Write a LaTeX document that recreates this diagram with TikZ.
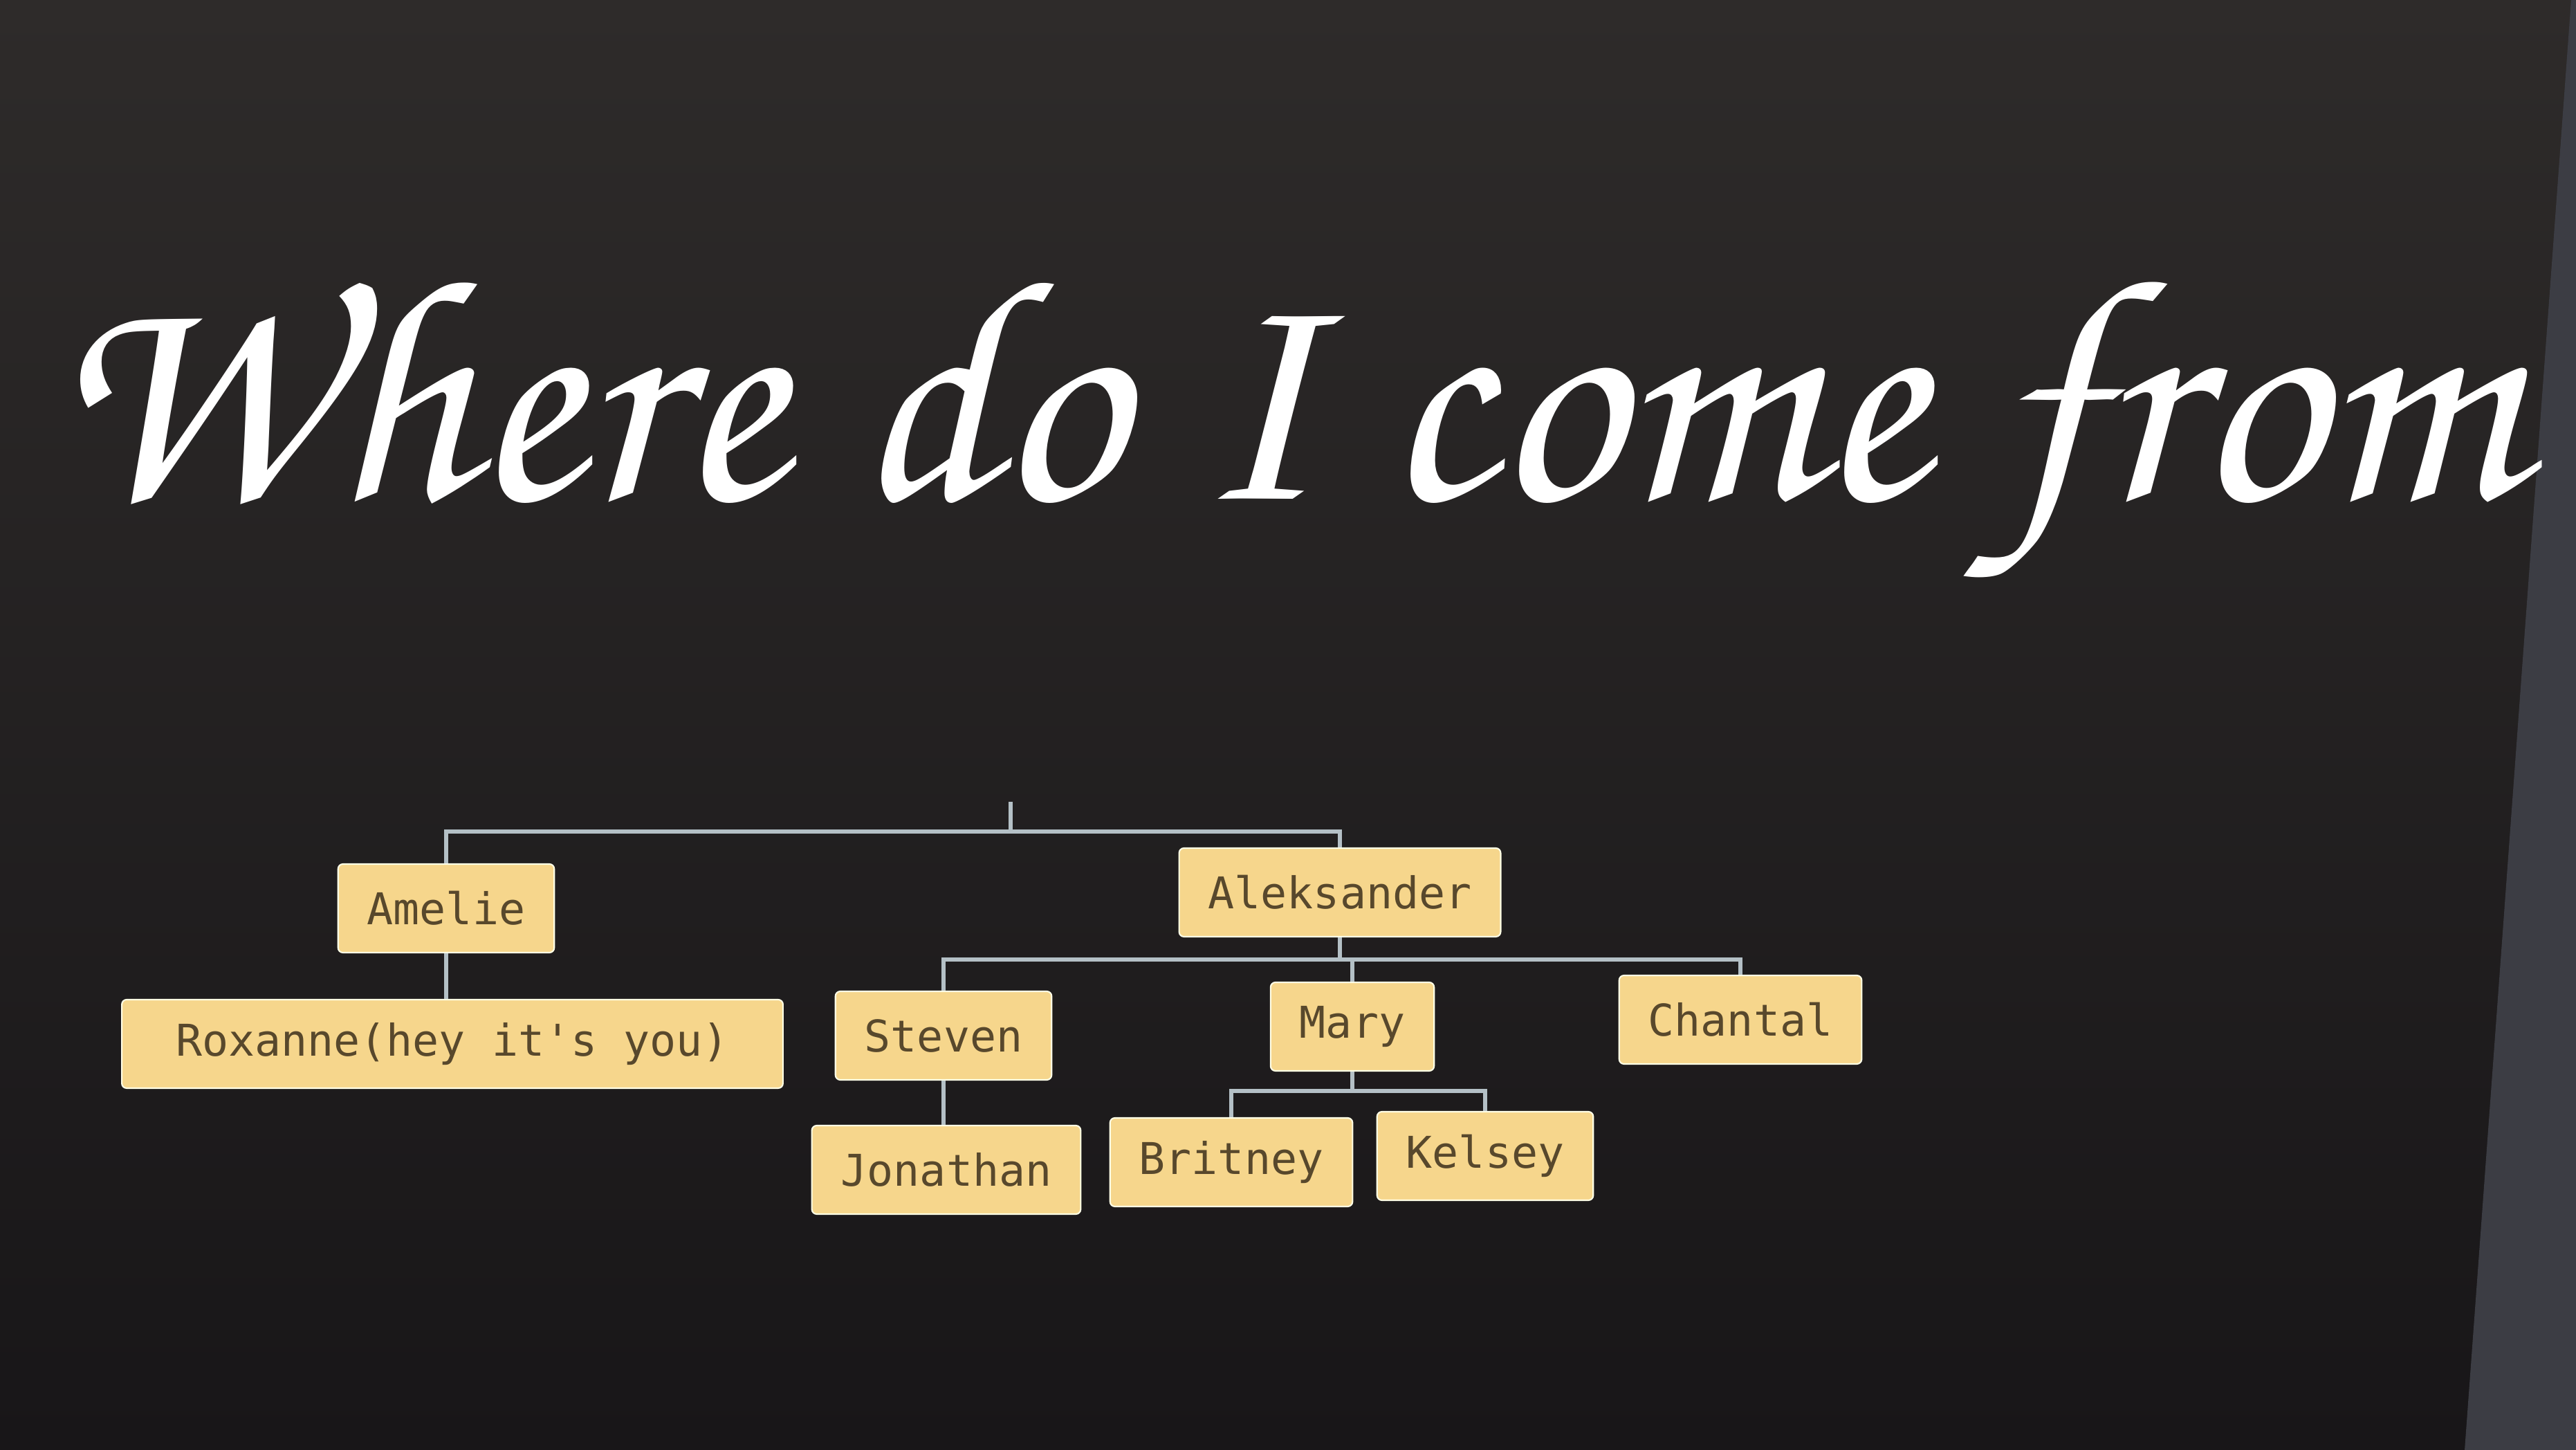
\documentclass[tikz,border=0pt]{standalone}
\usepackage{fontspec}
\usepackage{tikz}
\newfontfamily\boxfont{DejaVu Sans Mono}
\definecolor{bgtop}{RGB}{46,43,42}
\definecolor{bgbot}{RGB}{24,22,24}
\definecolor{bezel}{RGB}{60,61,68}
\definecolor{boxfill}{RGB}{246,214,140}
\definecolor{boxtext}{RGB}{88,72,44}
\definecolor{linkgray}{RGB}{180,192,198}

\begin{document}
\begin{tikzpicture}[
  person/.style={draw=white!90!yellow, line width=0.6pt, fill=boxfill, rounded corners=2pt,
    text=boxtext, font=\boxfont\fontsize{18}{20}\selectfont, minimum height=1.28cm, inner xsep=0.42cm},
  link/.style={draw=linkgray, line width=1.7pt}]
\useasboundingbox (0,0) rectangle (37.24,20.96);
\shade[top color=bgtop, bottom color=bgbot] (0,0) rectangle (37.24,20.96);
\fill[bezel] (37.17,20.96) -- (37.24,20.96) -- (37.24,0) -- (35.63,0) -- cycle;

% title
\node[text=white] (title) at (18.55,14.7)
  {\resizebox{35.7cm}{!}{\usefont{OT1}{pzc}{mb}{it}Where do I come from}};

% family tree
\node[person] (amelie) at (6.45,7.83) {Amelie};
\node[person, inner xsep=0.78cm] (roxanne) at (6.54,5.87) {Roxanne(hey it's you)};
\node[person] (aleks) at (19.37,8.06) {Aleksander};
\node[person] (steven) at (13.64,5.99) {Steven};
\node[person] (mary) at (19.55,6.12) {Mary};
\node[person] (chantal) at (25.16,6.22) {Chantal};
\node[person] (jonathan) at (13.68,4.05) {Jonathan};
\node[person] (britney) at (17.80,4.16) {Britney};
\node[person] (kelsey) at (21.47,4.25) {Kelsey};

\coordinate (root) at (14.61,9.37);
\coordinate (rootbar) at (14.61,8.94);
\draw[link] (root) -- (rootbar);
\draw[link] (amelie.north) |- (rootbar) -| (aleks.north);
\draw[link] (amelie.south) -- (roxanne.north -| amelie.south);

\coordinate (aleksbar) at (19.37,7.09);
\draw[link] (aleks.south) -- (aleksbar);
\foreach \c in {steven,mary,chantal}
  \draw[link] (aleksbar) -| (\c.north);
\draw[link] (steven.south) -- (jonathan.north -| steven.south);

\coordinate (marybar) at (19.55,5.19);
\draw[link] (mary.south) -- (marybar);
\foreach \c in {britney,kelsey}
  \draw[link] (marybar) -| (\c.north);
\end{tikzpicture}
\end{document}
